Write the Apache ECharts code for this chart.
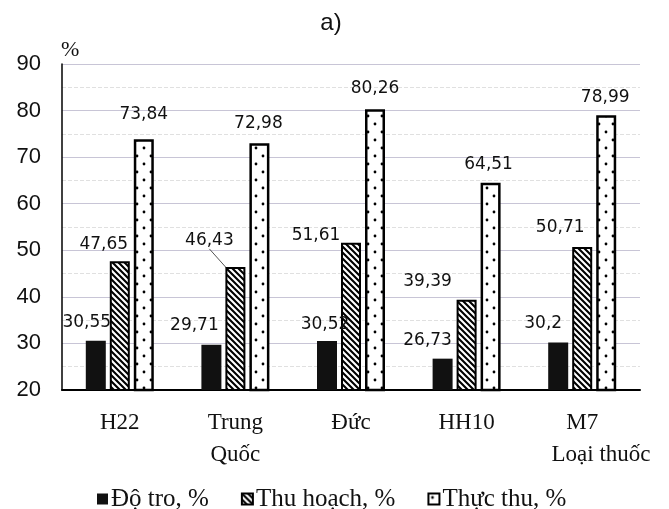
<!DOCTYPE html>
<html><head><meta charset="utf-8">
<script src="https://cdn.jsdelivr.net/npm/echarts@6/dist/echarts.min.js"></script>
<style>html,body{margin:0;padding:0;background:#fff}#c{width:669px;height:509px}</style>
</head><body><div id="c"></div>
<script>
const categories = ['H22', 'Trung\nQuốc', 'Đức', 'HH10', 'M7'];
const seriesNames = ['Độ tro, %', 'Thu hoạch, %', 'Thực thu, %'];
const doTro = [30.55, 29.71, 30.52, 26.73, 30.2];
const thuHoach = [47.65, 46.43, 51.61, 39.39, 50.71];
const thucThu = [73.84, 72.98, 80.26, 64.51, 78.99];
const yMin = 20, yMax = 90, yInterval = 10;

// label nudges (pure styling: dx, dy in px, per series / category)
const labelNudge = [
  [[-9, -5], [-17, -6], [-2, -3], [-15, -5], [-15, -5]],
  [[-16, -3], [-26, -13], [-35, 6], [-39, -5], [-22, -6]],
  [[0, -11], [-1, -6], [0, -7], [-2, -5], [-1, -4]]
];

function makeHatch() {
  const s = 6, c = document.createElement('canvas');
  c.width = s; c.height = s;
  const g = c.getContext('2d');
  g.fillStyle = '#fff'; g.fillRect(0, 0, s, s);
  g.strokeStyle = '#000'; g.lineWidth = 2.1;
  g.beginPath();
  for (let k = -1; k <= 1; k++) { g.moveTo(k * s - 1, -1); g.lineTo(k * s + s + 1, s + 1); }
  g.stroke();
  return c;
}
function makeDots() {
  const c = document.createElement('canvas');
  c.width = 14; c.height = 16;
  const g = c.getContext('2d');
  g.fillStyle = '#fff'; g.fillRect(0, 0, 14, 16);
  g.fillStyle = '#000';
  [[4, 4], [11, 12]].forEach(p => { g.beginPath(); g.arc(p[0], p[1], 1.4, 0, Math.PI * 2); g.fill(); });
  return c;
}

const fmt = p => String(p.value).replace('.', ',');
const labelCfg = {
  show: true, position: 'top', distance: 5, formatter: fmt,
  fontFamily: 'DejaVu Sans', fontSize: 17, color: '#111'
};
const layout = p => { const n = labelNudge[p.seriesIndex][p.dataIndex]; return { dx: n[0], dy: n[1] }; };

const chart = echarts.init(document.getElementById('c'), null, { renderer: 'canvas' });
chart.setOption({
  animation: false,
  backgroundColor: '#fff',
  grid: { left: 62, right: 29, top: 64, bottom: 119 },
  graphic: [
    { type: 'text', x: 331, y: 23, style: { text: 'a)', font: '24px "Liberation Sans"', fill: '#111', textAlign: 'center', textVerticalAlign: 'middle' } },
    { type: 'text', x: 61, y: 50, style: { text: '%', font: '22px "Liberation Serif"', fill: '#111', textAlign: 'left', textVerticalAlign: 'middle' } },
    { type: 'text', x: 601, y: 455, style: { text: 'Loại thuốc', font: '23px "Liberation Serif"', fill: '#111', textAlign: 'center', textVerticalAlign: 'middle' } }
  ],
  legend: {
    left: 92, top: 480, itemWidth: 11, itemHeight: 11, itemGap: 32, icon: 'rect',
    data: seriesNames,
    textStyle: { fontFamily: 'Liberation Serif', fontSize: 25, lineHeight: 28, color: '#111', padding: [0, 0, 0, -2] }
  },
  xAxis: {
    type: 'category', data: categories,
    axisLine: { lineStyle: { color: '#000', width: 2 } },
    axisTick: { show: false },
    axisLabel: { fontFamily: 'Liberation Serif', fontSize: 23, color: '#111', margin: 17, lineHeight: 32 }
  },
  yAxis: {
    type: 'value', min: yMin, max: yMax, interval: yInterval,
    axisLine: { show: true, lineStyle: { color: '#000', width: 1.5 } },
    axisTick: { show: false },
    axisLabel: { fontFamily: 'Liberation Sans', fontSize: 22, color: '#111', margin: 21 },
    splitLine: { lineStyle: { color: '#c8c5d6', width: 1 } },
    minorTick: { show: false, splitNumber: 2 },
    minorSplitLine: { show: true, lineStyle: { color: '#e0e0e0', type: 'dashed', width: 1 } }
  },
  series: [
    { name: seriesNames[0], type: 'bar', data: doTro, barWidth: 20, barGap: '20%',
      itemStyle: { color: '#111', borderColor: '#000', borderWidth: 0 },
      label: labelCfg, labelLayout: layout },
    { name: seriesNames[1], type: 'bar', data: thuHoach.map((v, i) => i === 1 ? { value: v, labelLine: { show: true, lineStyle: { color: '#555', width: 1 } } } : v),
      barWidth: 20, barGap: '20%',
      itemStyle: { color: { image: makeHatch(), repeat: 'repeat' }, borderColor: '#000', borderWidth: 2 },
      label: labelCfg, labelLayout: layout },
    { name: seriesNames[2], type: 'bar', data: thucThu, barWidth: 20, barGap: '20%',
      itemStyle: { color: { image: makeDots(), repeat: 'repeat' }, borderColor: '#000', borderWidth: 2.5 },
      label: labelCfg, labelLayout: layout }
  ]
});
</script>
</body></html>
